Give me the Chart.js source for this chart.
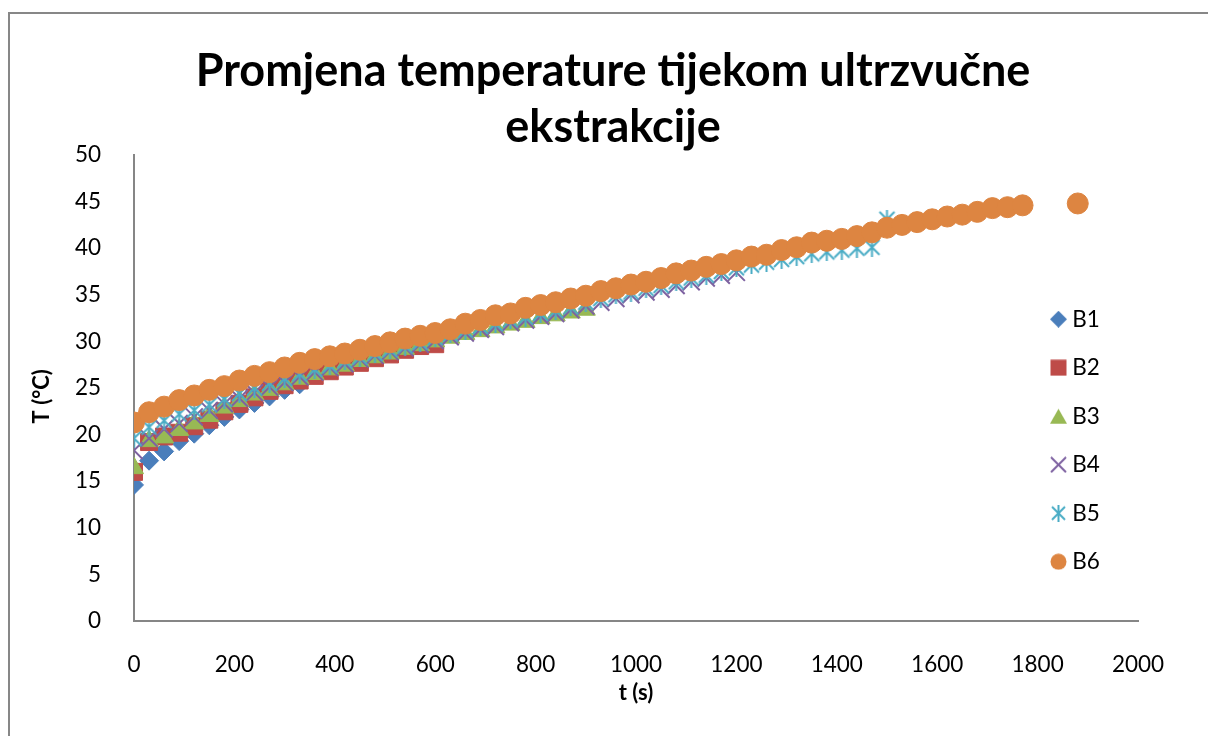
<!DOCTYPE html>
<html><head><meta charset="utf-8">
<script src="https://cdn.jsdelivr.net/npm/chart.js@4"></script>
<style>html,body{margin:0;padding:0;background:#fff}canvas{display:block}</style>
</head><body>
<canvas id="c" width="1208" height="736"></canvas>
<script>
const titleLines = ['Promjena temperature tijekom ultrzvučne', 'ekstrakcije'];
const xTitle = 't (s)';
const yTitle = 'T (°C)';
const seriesNames = ['B1', 'B2', 'B3', 'B4', 'B5', 'B6'];
const times = [0,30,60,90,120,150,180,210,240,270,300,330,360,390,420,450,480,510,540,570,
  600,630,660,690,720,750,780,810,840,870,900,930,960,990,1020,1050,1080,1110,1140,1170,
  1200,1230,1260,1290,1320,1350,1380,1410,1440,1470,1500,1530,1560,1590,1620,1650,1680,1710,1740,1770];
const timesB6 = times.concat([1880]);

const b1 = [14.6,17.2,18.2,19.3,20.1,21.0,21.9,22.7,23.4,24.1,24.8,25.4];
const b2 = [16.0,19.2,19.8,20.2,20.9,21.6,22.5,23.3,24.0,24.7,25.3,25.8,26.3,26.8,27.3,27.7,28.2,28.6,29.1,29.5,29.7];
const b3 = [16.4,19.3,19.7,20.5,21.2,22.0,22.9,23.6,24.3,24.8,25.4,26.0,26.5,27.0,27.4,27.9,28.3,28.7,29.2,29.6,
  30.0,30.4,30.8,31.1,31.5,31.8,32.1,32.5,32.8,33.1,33.4];
const b4 = [18.3,19.6,20.6,21.2,21.9,22.6,23.3,23.9,24.5,25.1,25.6,26.2,26.7,27.2,27.6,28.1,28.5,28.9,29.3,29.7,
  30.1,30.5,30.9,31.3,31.6,32.0,32.3,32.7,33.0,33.4,33.8,34.2,34.6,35.0,35.3,35.6,36.0,36.4,36.8,37.1,37.4];
const b5 = [19.6,20.8,21.5,22.2,22.6,23.2,23.8,24.4,25.0,25.5,26.0,26.5,27.0,27.4,27.9,28.3,28.7,29.1,29.5,29.9,
  30.4,30.8,31.2,31.6,31.9,32.3,32.6,33.0,33.3,33.7,34.2,34.6,35.0,35.3,35.7,36.0,36.4,36.8,37.1,37.5,
  37.9,38.2,38.5,38.8,39.1,39.4,39.6,39.8,40.0,40.1,43.1];
const b6 = [21.3,22.4,23.0,23.7,24.2,24.8,25.2,25.8,26.3,26.7,27.2,27.7,28.1,28.4,28.7,29.1,29.5,29.9,30.3,30.6,
  30.9,31.3,31.9,32.3,32.8,33.0,33.6,33.9,34.2,34.6,34.9,35.4,35.7,36.1,36.4,36.8,37.3,37.6,38.0,38.3,
  38.7,39.1,39.3,39.8,40.1,40.6,40.8,41.0,41.3,41.7,42.2,42.5,42.8,43.1,43.4,43.6,43.9,44.3,44.4,44.6,44.8];

const colors = ['#4A7EBB', '#BE4B48', '#98B954', '#7E62A1', '#4AACC5', '#DD8541'];

function makeIcon(type, color, size) {
  const c = document.createElement('canvas');
  c.width = size; c.height = size;
  const g = c.getContext('2d');
  const h = size / 2;
  g.fillStyle = color; g.strokeStyle = color; g.lineWidth = 2;
  g.beginPath();
  if (type === 'diamond') { g.moveTo(h, 0); g.lineTo(size, h); g.lineTo(h, size); g.lineTo(0, h); g.closePath(); g.fill(); }
  else if (type === 'square') { g.fillRect(0.5, 0.5, size - 1, size - 1); }
  else if (type === 'triangle') { g.moveTo(h, 1); g.lineTo(size, size - 1); g.lineTo(0, size - 1); g.closePath(); g.fill(); }
  else if (type === 'x') { g.moveTo(1, 1); g.lineTo(size - 1, size - 1); g.moveTo(size - 1, 1); g.lineTo(1, size - 1); g.stroke(); }
  else if (type === 'star') { g.moveTo(2, 2); g.lineTo(size - 2, size - 2); g.moveTo(size - 2, 2); g.lineTo(2, size - 2); g.moveTo(h, 0); g.lineTo(h, size); g.stroke(); }
  else if (type === 'circle') { g.arc(h, h, h - 0.5, 0, Math.PI * 2); g.fill(); }
  return c;
}
const legendIcons = [
  makeIcon('diamond', colors[0], 17), makeIcon('square', colors[1], 17), makeIcon('triangle', colors[2], 17),
  makeIcon('x', colors[3], 17), makeIcon('star', colors[4], 17), makeIcon('circle', colors[5], 17)
];
const starMarker = makeIcon('star', colors[4], 19);

const toPts = (tArr, vals) => vals.map((v, i) => ({x: tArr[i], y: v}));
const styles = [
  {pointStyle: 'rectRot', pointRadius: 9.5, pointBorderWidth: 1},
  {pointStyle: 'rect', pointRadius: 12, pointBorderWidth: 1},
  {pointStyle: 'triangle', pointRadius: 11, pointBorderWidth: 1},
  {pointStyle: 'crossRot', pointRadius: 12, pointBorderWidth: 2},
  {pointStyle: starMarker, pointRadius: 10, pointBorderWidth: 2},
  {pointStyle: 'circle', pointRadius: 10.5, pointBorderWidth: 1}
];
const allVals = [b1, b2, b3, b4, b5, b6];
const datasets = allVals.map((vals, i) => Object.assign({
  label: seriesNames[i],
  data: toPts(i === 5 ? timesB6 : times, vals),
  showLine: false,
  backgroundColor: colors[i],
  borderColor: colors[i],
  pointBackgroundColor: colors[i],
  pointBorderColor: colors[i],
  order: 5 - i
}, styles[i]));

const tickFont = {family: 'Lato', size: 22.5};
const axisTitleFont = {family: 'Lato', size: 22, weight: 'bold'};

const framePlugin = {
  id: 'frame',
  beforeDraw(chart) {
    const ctx = chart.ctx;
    ctx.save();
    ctx.fillStyle = '#fff';
    ctx.fillRect(0, 0, chart.width, chart.height);
    ctx.strokeStyle = '#878787';
    ctx.lineWidth = 2;
    ctx.strokeRect(9, 13, 1400, 900);
    ctx.restore();
  }
};
const boxPosPlugin = {
  id: 'boxPos',
  afterLayout(chart) {
    const l = chart.legend;
    if (l) {
      l.left = 1030; l.right = 1208; l.top = 282; l.bottom = 736;
      l.width = l.right - l.left; l.height = l.bottom - l.top;
    }
    const t = chart.titleBlock;
    if (t) {
      t.left = 18; t.right = 1208; t.width = t.right - t.left;
    }
  }
};

new Chart(document.getElementById('c'), {
  type: 'scatter',
  data: {datasets},
  options: {
    responsive: false,
    animation: false,
    devicePixelRatio: 1,
    layout: {padding: {left: 0, right: 70, top: 0, bottom: 0}},
    plugins: {
      tooltip: {enabled: false},
      title: {
        display: true, text: titleLines, color: '#000',
        font: {family: 'Lato', size: 45, weight: 'bold', lineHeight: 56 / 45},
        padding: {top: 43, bottom: 0}
      },
      legend: {
        position: 'chartArea',
        align: 'start',
        labels: {
          usePointStyle: true, boxWidth: 5, boxHeight: 12, padding: 26,
          font: {family: 'Lato', size: 22.5}, color: '#000',
          generateLabels(chart) {
            const items = Chart.defaults.plugins.legend.labels.generateLabels(chart);
            items.forEach(it => { it.pointStyle = legendIcons[it.datasetIndex]; });
            return items;
          },
          sort: (a, b) => a.datasetIndex - b.datasetIndex
        }
      }
    },
    scales: {
      x: {
        type: 'linear', min: 0, max: 2000,
        ticks: {stepSize: 200, padding: 22, font: tickFont, color: '#000', maxRotation: 0, callback: v => String(v)},
        grid: {display: false},
        border: {display: true, color: '#868686', width: 2},
        title: {display: true, text: xTitle, font: axisTitleFont, color: '#000', padding: {top: 0, bottom: 30}},
        afterFit(s) { s.height = 115; }
      },
      y: {
        type: 'linear', min: 0, max: 50,
        ticks: {stepSize: 5, padding: 25, font: tickFont, color: '#000', callback: v => String(v)},
        grid: {display: false},
        border: {display: true, color: '#868686', width: 2},
        title: {display: true, text: yTitle + '\u2003', font: axisTitleFont, color: '#000', padding: {top: 29, bottom: 0}},
        afterFit(s) { s.width = 134; }
      }
    }
  },
  plugins: [framePlugin, boxPosPlugin]
});
</script>
</body></html>
